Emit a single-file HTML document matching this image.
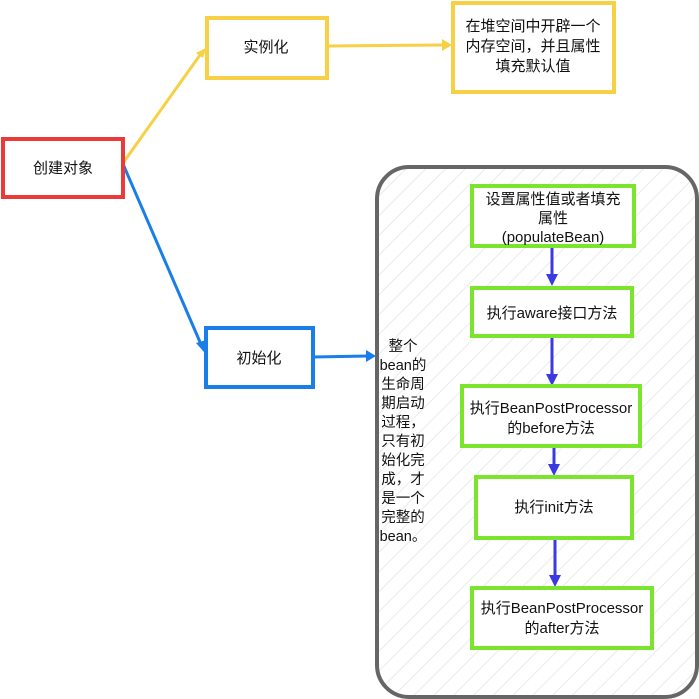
<!DOCTYPE html>
<html><head><meta charset="utf-8"><style>
html,body{margin:0;padding:0;background:#fff;width:699px;height:699px;overflow:hidden}
svg text{font-family:"Liberation Sans","Noto Sans CJK SC",sans-serif;fill:#111;text-anchor:middle}
</style></head><body>
<svg width="699" height="699" viewBox="0 0 699 699" xmlns="http://www.w3.org/2000/svg">
<defs>
<pattern id="h" width="14" height="14" patternUnits="userSpaceOnUse" patternTransform="rotate(45)">
<rect width="14" height="14" fill="#fff"/><line x1="0" y1="0" x2="0" y2="14" stroke="#e4e4e4" stroke-width="1.5"/>
</pattern>
</defs>
<!-- big rounded container -->
<rect x="377" y="167" width="320" height="530" rx="32" fill="url(#h)" stroke="#666" stroke-width="4"/>
<!-- connectors -->
<line x1="123" y1="163" x2="200" y2="55" stroke="#f7d046" stroke-width="3"/>
<polygon points="206,48 196,53 203,58" fill="#f7d046"/>
<line x1="327" y1="46" x2="444" y2="45" stroke="#f7d046" stroke-width="3"/>
<polygon points="452,45 442,39 442,51" fill="#f7d046"/>
<line x1="123" y1="164" x2="200" y2="342" stroke="#1a7ee8" stroke-width="3"/>
<polygon points="204,352 196,343 206,340" fill="#1a7ee8"/>
<line x1="313" y1="357" x2="368" y2="356" stroke="#1a7ee8" stroke-width="3"/>
<polygon points="376,356 366,350 366,362" fill="#1a7ee8"/>
<!-- blue flow arrows -->
<g stroke="#3a3ae0" stroke-width="3" fill="#3a3ae0">
<line x1="552" y1="247" x2="552" y2="276"/><polygon points="552,286 546,274 558,274" stroke="none"/>
<line x1="552" y1="336" x2="552" y2="376"/><polygon points="552,386 546,374 558,374" stroke="none"/>
<line x1="554" y1="446" x2="554" y2="466"/><polygon points="554,476 548,464 560,464" stroke="none"/>
<line x1="555" y1="538" x2="555" y2="577"/><polygon points="555,587 549,575 561,575" stroke="none"/>
</g>
<!-- left boxes -->
<rect x="3" y="139" width="120" height="58" fill="#fff" stroke="#ea3a3a" stroke-width="4"/>
<text x="63" y="173" font-size="15">创建对象</text>
<rect x="207" y="18" width="120" height="60" fill="#fff" stroke="#f7d046" stroke-width="4"/>
<text x="266" y="52" font-size="15">实例化</text>
<rect x="206" y="328" width="107" height="59" fill="#fff" stroke="#1a7ee8" stroke-width="4"/>
<text x="259" y="363" font-size="15">初始化</text>
<rect x="453" y="3" width="161" height="89" fill="#fff" stroke="#f7d046" stroke-width="4"/>
<text x="533" y="31" font-size="15">在堆空间中开辟一个</text>
<text x="533" y="51" font-size="15">内存空间，并且属性</text>
<text x="533" y="71" font-size="15">填充默认值</text>
<!-- side text -->
<g font-size="14.5">
<text x="403" y="351">整个</text>
<text x="403" y="370">bean的</text>
<text x="403" y="389">生命周</text>
<text x="403" y="408">期启动</text>
<text x="403" y="427">过程，</text>
<text x="403" y="446">只有初</text>
<text x="403" y="465">始化完</text>
<text x="403" y="484">成，才</text>
<text x="403" y="503">是一个</text>
<text x="403" y="522">完整的</text>
<text x="403" y="541">bean。</text>
</g>
<!-- green boxes -->
<g fill="#fff" stroke="#7be42c" stroke-width="4">
<rect x="472" y="186" width="162" height="60"/>
<rect x="472" y="288" width="160" height="48"/>
<rect x="462" y="386" width="178" height="60"/>
<rect x="476" y="477" width="156" height="61"/>
<rect x="472" y="588" width="180" height="60"/>
</g>
<g font-size="15">
<text x="553" y="204">设置属性值或者填充</text>
<text x="553" y="223">属性</text>
<text x="553" y="242">(populateBean)</text>
<text x="552" y="318">执行aware接口方法</text>
<text x="551" y="413">执行BeanPostProcessor</text>
<text x="551" y="433">的before方法</text>
<text x="554" y="512">执行init方法</text>
<text x="562" y="613">执行BeanPostProcessor</text>
<text x="562" y="633">的after方法</text>
</g>
</svg>
</body></html>
